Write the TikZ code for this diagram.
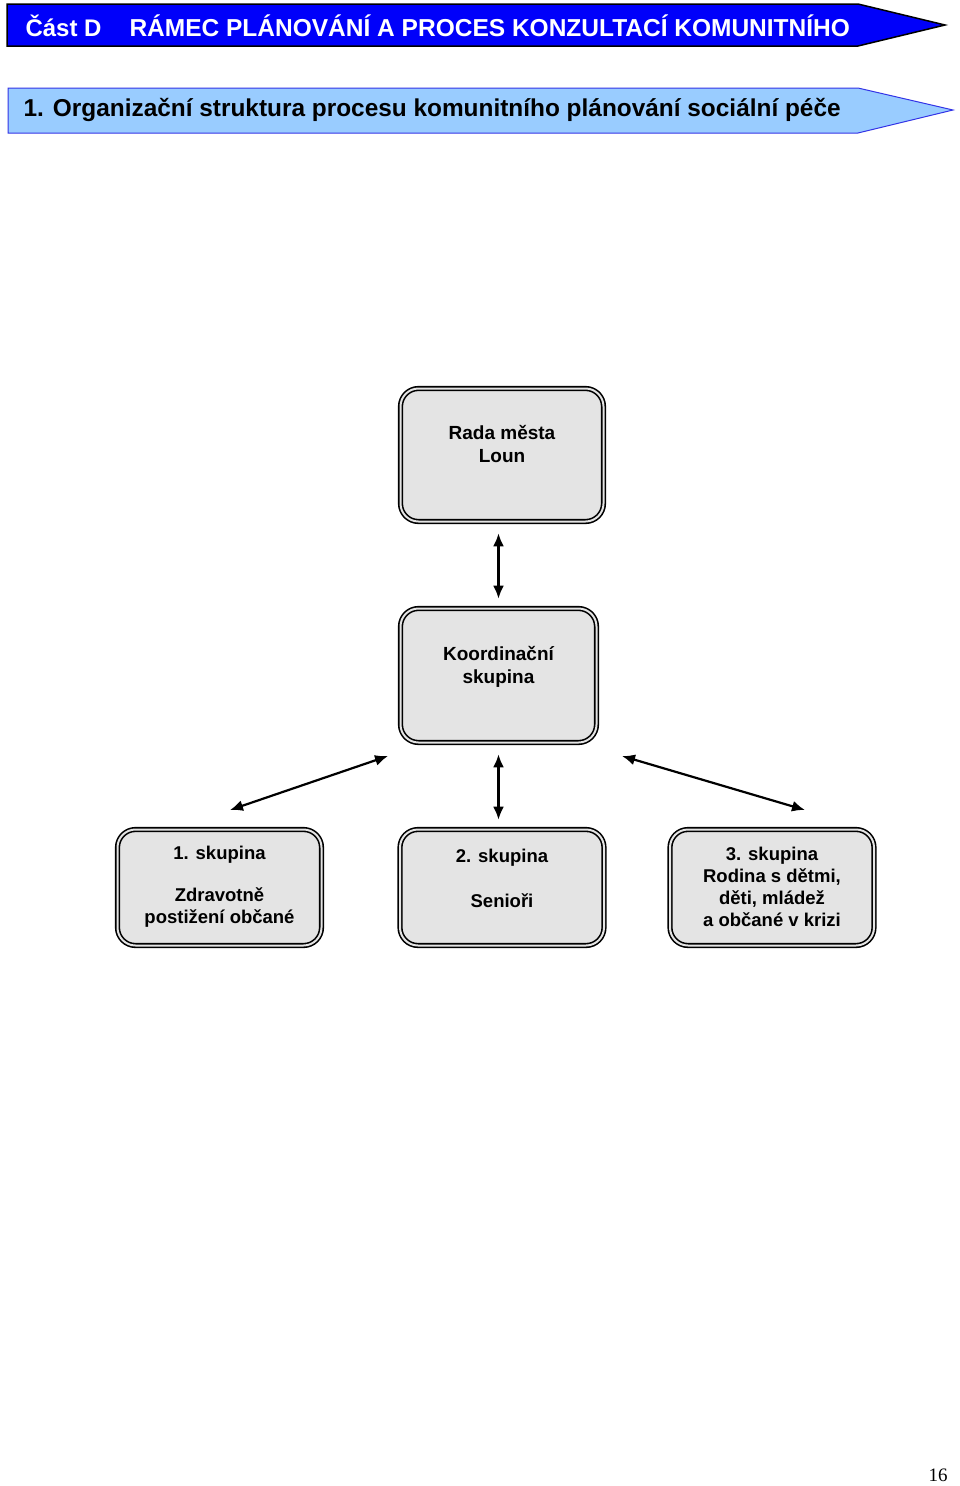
\documentclass[tikz,border=0pt]{standalone}
\usepackage{fontspec}
\setmainfont{Liberation Sans}
\newfontfamily\pagefont{Liberation Serif}
\usetikzlibrary{arrows.meta}
\definecolor{headblue}{RGB}{0,0,250}
\definecolor{subblue}{RGB}{153,204,255}
\definecolor{subedge}{RGB}{51,51,230}
\definecolor{boxgray}{RGB}{228,228,228}
\tikzset{
  grpbox/.style={draw=black, line width=1.6pt, double=boxgray, double distance=2pt,
    fill=boxgray, rounded corners=18pt, inner sep=0pt},
  boxtext/.style={align=center, font=\bfseries\fontsize{18.5}{22}\selectfont},
  link/.style={line width=2.2pt, {Latex[length=13pt,width=11pt]}-{Latex[length=13pt,width=11pt]}}
}
\begin{document}
\begin{tikzpicture}[x=1pt,y=-1pt]
    \useasboundingbox (0,0) rectangle (960,1486);
    % banners
    \draw[fill=headblue, draw=black, line width=1.5pt] (7,4) -- (858,4) -- (945,25) -- (858,46) -- (7,46) -- cycle;
    \node[anchor=west, text=white, font=\bfseries\fontsize{24}{28}\selectfont] (partd) at (22,26) {Část D};
    \node[anchor=west, text=white, font=\bfseries\fontsize{24.5}{28}\selectfont] (parttitle) at (126,26) {RÁMEC PLÁNOVÁNÍ A PROCES KONZULTACÍ KOMUNITNÍHO};
    \draw[fill=subblue, draw=subedge, line width=1pt] (8,88) -- (858,88) -- (953,110) -- (858,133) -- (8,133) -- cycle;
    \node[anchor=west, font=\bfseries\fontsize{24.4}{28}\selectfont] (subtitle) at (20,110) {1. Organizační struktura procesu komunitního plánování sociální péče};
    % boxes
    \node[grpbox, minimum width=203pt, minimum height=133pt] (rada) at (502,455) {};
    \node[grpbox, minimum width=196pt, minimum height=134pt] (koord) at (498.5,675.5) {};
    \node[grpbox, minimum width=204pt, minimum height=116pt] (g1) at (219.5,887.5) {};
    \node[grpbox, minimum width=204pt, minimum height=116pt] (g2) at (502,887.5) {};
    \node[grpbox, minimum width=204pt, minimum height=116pt] (g3) at (772,887.5) {};
    % texts
    \node[boxtext, font=\bfseries\fontsize{19}{23}\selectfont] (radatxt) at (502,443.5) {Rada města\\Loun};
    \node[boxtext, font=\bfseries\fontsize{19}{23}\selectfont] (koordtxt) at (498.5,666.5) {Koordinační\\skupina};
    \node[boxtext] (g1txt) at (219.5,887) {1. skupina\\[20pt]Zdravotně\\postižení občané};
    \node[boxtext] (g2txt) at (502,878.5) {2. skupina\\[23pt]Senioři};
    \node[boxtext] (g3txt) at (772,887) {3. skupina\\Rodina s dětmi,\\děti, mládež\\a občané v krizi};
    % arrows
    \coordinate (la) at (388,756);
    \coordinate (lb) at (230,810);
    \coordinate (ra) at (622,756);
    \coordinate (rb) at (805,810);
    \draw[link, shorten <=11pt, shorten >=9pt] (koord.north |- rada.south) -- (koord.north);
    \draw[link, shorten <=11pt, shorten >=9pt] (koord.south) -- (koord.south |- g2.north);
    \draw[link] (la) -- (lb);
    \draw[link] (ra) -- (rb);
    % page number
    \node[font=\pagefont\fontsize{19}{22}\selectfont] (pagenum) at (938,1475) {16};
\end{tikzpicture}
\end{document}
